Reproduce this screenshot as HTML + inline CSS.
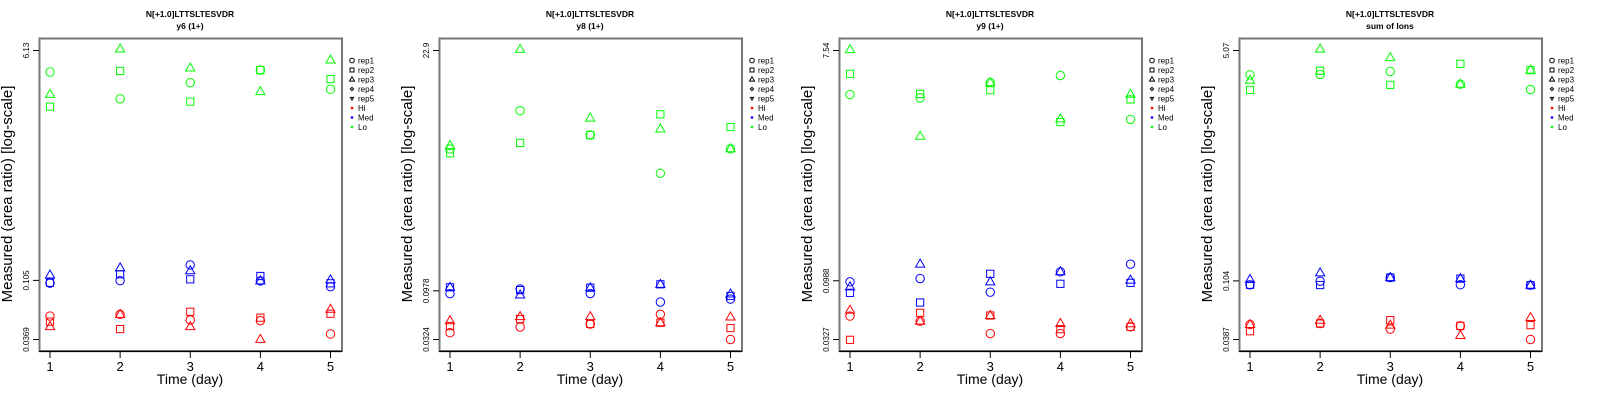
<!DOCTYPE html>
<html><head><meta charset="utf-8"><style>
html,body{margin:0;padding:0;background:#fff;}
svg{display:block;font-family:"Liberation Sans",sans-serif;}
</style></head><body>
<svg id="chart" width="1600" height="400" viewBox="0 0 1600 400" xmlns="http://www.w3.org/2000/svg"></svg>
<script>
const days = [1,2,3,4,5];
const panelTitles = ["y6 (1+)","y8 (1+)","y9 (1+)","sum of Ions"];
const peptide = "N[+1.0]LTTSLTESVDR";
const yTicks1 = [0.0369,0.105,6.13];
const yTicks2 = [0.0324,0.0978,22.9];
const yTicks3 = [0.0327,0.0988,7.54];
const yTicks4 = [0.0387,0.104,5.07];
const yTickLabels1 = ["0.0369","0.105","6.13"];
const yTickLabels2 = ["0.0324","0.0978","22.9"];
const yTickLabels3 = ["0.0327","0.0988","7.54"];
const yTickLabels4 = ["0.0387","0.104","5.07"];
// order within each group: [rep1 circle, rep2 square, rep3 triangle]
const p1Lo = [[4.19,2.61,3.47,4.34,3.09],[2.27,4.27,2.48,4.34,3.70],[2.82,6.29,4.50,2.96,5.18]];
const p1Med = [[0.100,0.1045,0.138,0.104,0.0939],[0.1008,0.117,0.107,0.1135,0.0997],[0.1155,0.131,0.1246,0.104,0.106]];
const p1Hi = [[0.0559,0.0576,0.0521,0.0515,0.0407],[0.0506,0.0444,0.0603,0.0543,0.0582],[0.0463,0.0576,0.0463,0.037,0.063]];
const p2Lo = [[2.45,5.84,3.36,1.41,2.46],[2.22,2.81,3.36,5.38,4.03],[2.66,23.5,4.94,3.85,2.46]];
const p2Med = [[0.0917,0.102,0.092,0.0759,0.0812],[0.106,0.0995,0.105,0.1134,0.087],[0.106,0.089,0.105,0.1134,0.091]];
const p2Hi = [[0.0378,0.043,0.046,0.0574,0.0324],[0.044,0.0516,0.0461,0.0474,0.042],[0.0496,0.0544,0.0544,0.0474,0.054]];
const p3Lo = [[3.29,3.09,4.12,4.71,2.06],[4.86,3.33,3.57,1.96,3.0],[7.67,1.50,4.12,2.08,3.31]];
const p3Med = [[0.0968,0.103,0.0797,0.117,0.135],[0.0787,0.0656,0.1126,0.0933,0.095],[0.088,0.135,0.0968,0.117,0.0999]];
const p3Hi = [[0.0508,0.0462,0.0366,0.0366,0.0415],[0.0325,0.054,0.0514,0.0397,0.0415],[0.0568,0.0462,0.0514,0.0442,0.044]];
const p4Lo = [[3.36,3.38,3.56,2.87,2.62],[2.61,3.60,2.84,4.05,3.64],[3.07,5.19,4.50,2.87,3.64]];
const p4Med = [[0.0974,0.1035,0.110,0.0975,0.0967],[0.0974,0.097,0.110,0.108,0.0967],[0.1065,0.119,0.110,0.108,0.0967]];
const p4Hi = [[0.0498,0.0507,0.0461,0.0487,0.0387],[0.0445,0.0507,0.0536,0.0487,0.0493],[0.0498,0.0536,0.0493,0.0414,0.0561]];
const groupNames = ["Hi","Med","Lo"];
const groupColors = ["#ff0000","#0000ff","#00ff00"];
const repNames = ["rep1","rep2","rep3","rep4","rep5"];

const svg = document.getElementById('chart');
const NS = "http://www.w3.org/2000/svg";
function mk(tag, attrs, parent, text){
  const e = document.createElementNS(NS, tag);
  for (const k in attrs) e.setAttribute(k, attrs[k]);
  if (text !== undefined) e.textContent = text;
  (parent||svg).appendChild(e);
  return e;
}
function marker(g, shape, cx, cy, color, size){
  let e;
  if (shape === 0) e = mk('circle',{cx:cx,cy:cy,r:4.2*size,fill:'none',stroke:color,'stroke-width':1},g);
  else if (shape === 1) e = mk('rect',{x:cx-3.6*size,y:cy-3.6*size,width:7.2*size,height:7.2*size,fill:'none',stroke:color,'stroke-width':1},g);
  else if (shape === 2) e = mk('polygon',{points:`${cx},${cy-5*size} ${cx+4.6*size},${cy+3*size} ${cx-4.6*size},${cy+3*size}`,fill:'none',stroke:color,'stroke-width':1},g);
  else if (shape === 3) e = mk('polygon',{points:`${cx},${cy-3*size} ${cx+3*size},${cy} ${cx},${cy+3*size} ${cx-3*size},${cy}`,fill:'none',stroke:color,'stroke-width':1},g);
  else e = mk('polygon',{points:`${cx},${cy+3*size} ${cx+3*size},${cy-2*size} ${cx-3*size},${cy-2*size}`,fill:'none',stroke:color,'stroke-width':1},g);
  return e;
}

const panels = [
  {ticks:yTicks1, labels:yTickLabels1, groups:[p1Hi,p1Med,p1Lo]},
  {ticks:yTicks2, labels:yTickLabels2, groups:[p2Hi,p2Med,p2Lo]},
  {ticks:yTicks3, labels:yTickLabels3, groups:[p3Hi,p3Med,p3Lo]},
  {ticks:yTicks4, labels:yTickLabels4, groups:[p4Hi,p4Med,p4Lo]}
];

panels.forEach((p, i) => {
  const ox = 400*i;
  const g = mk('g',{});
  
  
  const lo = p.ticks[0], hi = p.ticks[p.ticks.length-1];
  const yScale = v => 339.5 - (Math.log(v)-Math.log(lo))/(Math.log(hi)-Math.log(lo))*289;
  const xScale = d => ox + 50 + (d-1)*(280.5/4);

  const t1 = mk('text',{x:ox+190,y:17,'text-anchor':'middle','font-size':8.5,'font-weight':'bold'},g,peptide);
  
  
  const t2 = mk('text',{x:ox+190,y:29,'text-anchor':'middle','font-size':8.5,'font-weight':'bold'},g,panelTitles[i]);
  
  

  const box = mk('rect',{x:ox+39.5,y:38.5,width:302.5,height:312.5,fill:'none',stroke:'#777','stroke-width':2},g);
  
  
  const xaxis = mk('line',{x1:ox+39,x2:ox+342,y1:351.5,y2:351.5,stroke:'#000','stroke-width':1.2},g);
  
  

  days.forEach(d => {
    const x = xScale(d);
    mk('line',{x1:x,x2:x,y1:351.5,y2:358,stroke:'#000','stroke-width':1},g);
    const tl = mk('text',{x:x,y:371,'text-anchor':'middle','font-size':13},g,String(d));
    
    
  });
  p.ticks.forEach((v, k) => {
    const y = yScale(v);
    mk('line',{x1:ox+33,x2:ox+39,y1:y,y2:y,stroke:'#000','stroke-width':1},g);
    const tl = mk('text',{x:0,y:0,'text-anchor':'middle','font-size':8,transform:`translate(${ox+29},${y}) rotate(-90)`},g,p.labels[k]);
    
    
  });
  const xt = mk('text',{x:ox+190,y:384,'text-anchor':'middle','font-size':14},g,'Time (day)');
  
  
  const yt = mk('text',{x:0,y:0,'text-anchor':'middle','font-size':15,transform:`translate(${ox+12},194) rotate(-90)`},g,'Measured (area ratio) [log-scale]');
  
  

  p.groups.forEach((grp, gi) => {
    grp.forEach((series, r) => {
      series.forEach((v, di) => {
        const m = marker(g, r, xScale(days[di]), yScale(v), groupColors[gi], 1);
        
        
      });
    });
  });

  const lg = mk('g',{},g);
  
  
  repNames.forEach((n, k) => {
    const y = 60.5 + k*9.5;
    marker(lg, k, ox+352, y, '#000', 0.55);
    const e = mk('text',{x:ox+358,y:y+3,'font-size':8},lg,n);
    
    
  });
  groupNames.forEach((n, k) => {
    const y = 60.5 + (5+k)*9.5;
    mk('circle',{cx:ox+352,cy:y,r:1.3,fill:groupColors[k]},lg);
    const e = mk('text',{x:ox+358,y:y+3,'font-size':8},lg,n);
    
    
  });
});
</script>
</body></html>
